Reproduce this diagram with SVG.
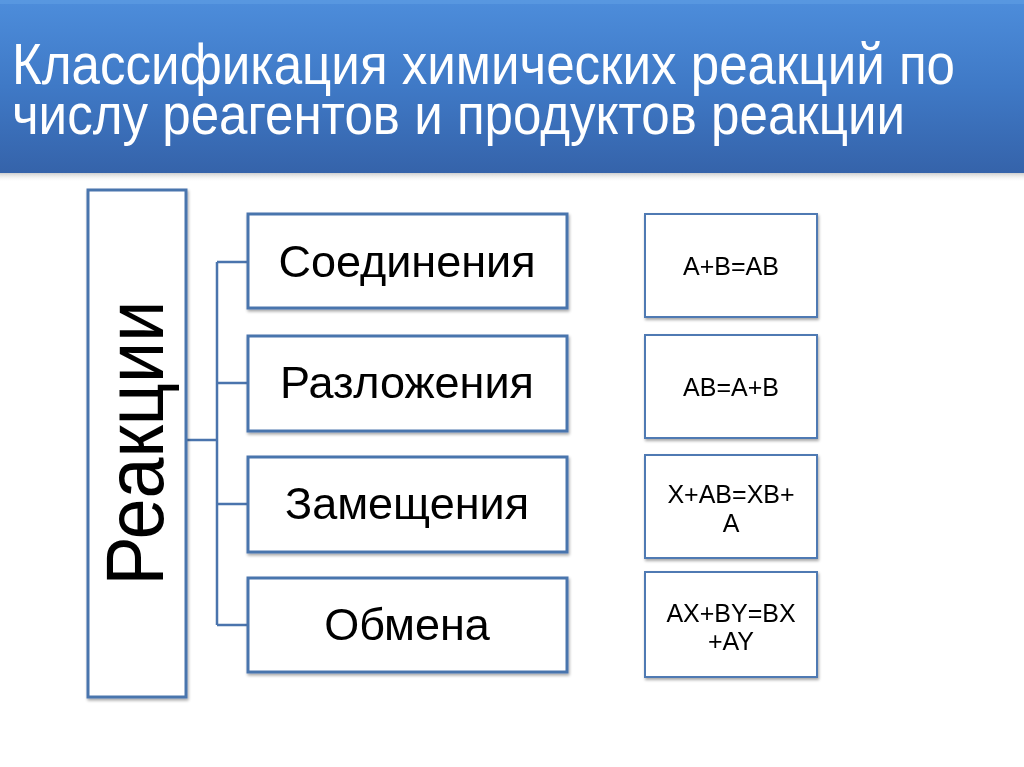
<svg xmlns="http://www.w3.org/2000/svg" width="1024" height="767" viewBox="0 0 1024 767">
<defs>
<linearGradient id="band" x1="0" y1="0" x2="0" y2="1">
<stop offset="0" stop-color="#4d8ddb"/>
<stop offset="0.5" stop-color="#3f79c6"/>
<stop offset="1" stop-color="#3563aa"/>
</linearGradient>
<linearGradient id="bandShadow" x1="0" y1="0" x2="0" y2="1">
<stop offset="0" stop-color="#9a9a9a" stop-opacity="0.6"/>
<stop offset="1" stop-color="#ffffff" stop-opacity="0"/>
</linearGradient>
<filter id="sh" x="-10%" y="-10%" width="120%" height="120%">
<feGaussianBlur in="SourceAlpha" stdDeviation="1.5"/>
<feOffset dx="1" dy="2" result="b"/>
<feComponentTransfer><feFuncA type="linear" slope="0.35"/></feComponentTransfer>
<feMerge><feMergeNode/><feMergeNode in="SourceGraphic"/></feMerge>
</filter>
</defs>
<style>
.box{fill:#ffffff;stroke:#4a74ad;stroke-width:3}
.rbox{fill:#ffffff;stroke:#4f7ab3;stroke-width:2}
.conn{fill:none;stroke:#4a74ad;stroke-width:2.5}
.title{font-family:"Liberation Sans",Arial,sans-serif;font-size:57px;fill:#ffffff}
.mid{font-family:"Liberation Sans",Arial,sans-serif;font-size:45px;fill:#000000;text-anchor:middle}
.eq{font-family:"Liberation Sans",Arial,sans-serif;font-size:25px;fill:#000000;text-anchor:middle}
.big{font-family:"Liberation Sans",Arial,sans-serif;font-size:82px;fill:#000000;text-anchor:middle}
</style>
<rect width="1024" height="767" fill="#ffffff"/>
<g id="title">
<rect x="0" y="172" width="1024" height="10" fill="url(#bandShadow)"/>
<rect x="0" y="0" width="1024" height="173" fill="url(#band)"/>
<rect x="0" y="0" width="1024" height="4" fill="#5c9be2" opacity="0.7"/>
<text class="title" x="12" y="84" textLength="943" lengthAdjust="spacingAndGlyphs">Классификация химических реакций по</text>
<text class="title" x="12" y="134" textLength="893" lengthAdjust="spacingAndGlyphs">числу реагентов и продуктов реакции</text>
</g>
<g id="connectors">
<path class="conn" d="M186 440 H217 M217 262 V625 M217 262 H248 M217 383 H248 M217 504 H248 M217 625 H248"/>
</g>
<g id="reactions" filter="url(#sh)">
<rect class="box" x="88" y="190" width="98" height="507"/>
<text class="big" transform="translate(163,443) rotate(-90)" textLength="285" lengthAdjust="spacingAndGlyphs">Реакции</text>
</g>
<g id="soedineniya" filter="url(#sh)">
<rect class="box" x="248" y="214" width="319" height="94"/>
<text class="mid" x="407" y="277">Соединения</text>
</g>
<g id="razlozheniya" filter="url(#sh)">
<rect class="box" x="248" y="336" width="319" height="95"/>
<text class="mid" x="407" y="398">Разложения</text>
</g>
<g id="zameshcheniya" filter="url(#sh)">
<rect class="box" x="248" y="457" width="319" height="95"/>
<text class="mid" x="407" y="519">Замещения</text>
</g>
<g id="obmena" filter="url(#sh)">
<rect class="box" x="248" y="578" width="319" height="94"/>
<text class="mid" x="407" y="640">Обмена</text>
</g>
<g id="eq1" filter="url(#sh)">
<rect class="rbox" x="645" y="214" width="172" height="103"/>
<text class="eq" x="731" y="275">A+B=AB</text>
</g>
<g id="eq2" filter="url(#sh)">
<rect class="rbox" x="645" y="335" width="172" height="103"/>
<text class="eq" x="731" y="396">AB=A+B</text>
</g>
<g id="eq3" filter="url(#sh)">
<rect class="rbox" x="645" y="455" width="172" height="103"/>
<text class="eq" x="731" y="503" font-size="28">X+AB=XB+</text>
<text class="eq" x="731" y="532" font-size="28">A</text>
</g>
<g id="eq4" filter="url(#sh)">
<rect class="rbox" x="645" y="572" width="172" height="105"/>
<text class="eq" x="731" y="622" font-size="28">AX+BY=BX</text>
<text class="eq" x="731" y="650" font-size="28">+AY</text>
</g>
</svg>
